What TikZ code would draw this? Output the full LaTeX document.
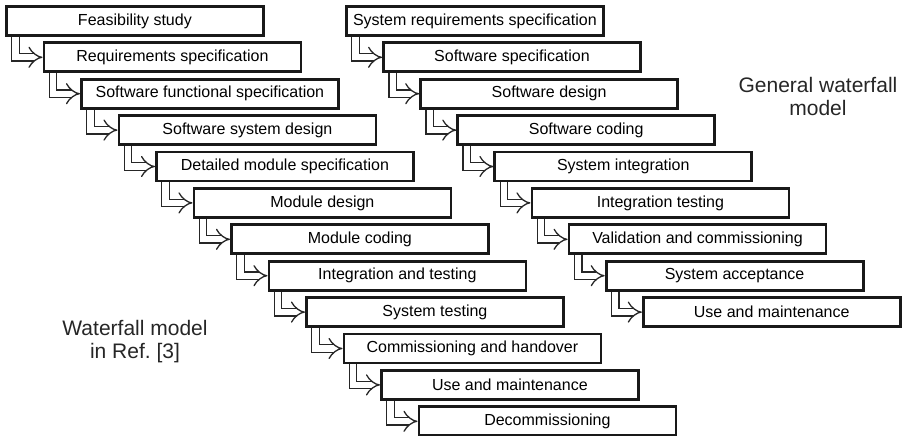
\documentclass[tikz,border=0pt]{standalone}
\usepackage{fontspec}
\setmainfont{Liberation Sans}
\usetikzlibrary{arrows.meta}
\usetikzlibrary{backgrounds}
\tikzstyle{stage} = [draw=black!90, fill=white, line width=1.4pt, rectangle, anchor=north west, minimum width=128.5pt, minimum height=14.5pt, inner sep=0pt, font=\fontsize{8}{9.6}\selectfont]
\tikzstyle{flow} = [draw=black!85, line width=0.65pt, double=white, double distance=3.1pt, -{Implies[scale=1.15]}]
\tikzstyle{caption} = [align=center, text=black!85, font=\fontsize{10.5}{11.5}\selectfont]

\begin{document}
\begin{tikzpicture}[x=0.5pt, y=-0.5pt]
\useasboundingbox (0,0) rectangle (902,435);

% waterfall model in Ref. [3]
\node[stage] (l1)  at (5.0,5.0)    {Feasibility study};
\node[stage] (l2)  at (42.5,41.4)  {Requirements specification};
\node[stage] (l3)  at (80.0,77.8)  {Software functional specification};
\node[stage] (l4)  at (117.5,114.2) {Software system design};
\node[stage] (l5)  at (155.0,150.6) {Detailed module specification};
\node[stage] (l6)  at (192.5,187.0) {Module design};
\node[stage] (l7)  at (230.0,223.4) {Module coding};
\node[stage] (l8)  at (267.5,259.8) {Integration and testing};
\node[stage] (l9)  at (305.0,296.2) {System testing};
\node[stage] (l10) at (342.5,332.6) {Commissioning and handover};
\node[stage] (l11) at (380.0,369.0) {Use and maintenance};
\node[stage] (l12) at (417.5,405.4) {Decommissioning};

% general waterfall model
\node[stage] (r1) at (345.0,5.0)   {System requirements specification};
\node[stage] (r2) at (382.1,41.4)  {Software specification};
\node[stage] (r3) at (419.2,77.8)  {Software design};
\node[stage] (r4) at (456.3,114.2) {Software coding};
\node[stage] (r5) at (493.4,150.6) {System integration};
\node[stage] (r6) at (530.5,187.0) {Integration testing};
\node[stage] (r7) at (567.6,223.4) {Validation and commissioning};
\node[stage] (r8) at (604.7,259.8) {System acceptance};
\node[stage] (r9) at (641.8,296.2) {Use and maintenance};

\node[caption] (cl) at (135,341.5) {Waterfall model\\in Ref.\ [3]};
\node[caption] (cr) at (818,96.5) {General waterfall\\model};

\begin{scope}[on background layer]
\foreach \a/\b in {l1/l2,l2/l3,l3/l4,l4/l5,l5/l6,l6/l7,l7/l8,l8/l9,l9/l10,l10/l11,l11/l12,
                   r1/r2,r2/r3,r3/r4,r4/r5,r5/r6,r6/r7,r7/r8,r8/r9}
  \draw[flow] ([xshift=5.25pt,yshift=1pt]\a.south west) |- (\b.west);
\end{scope}
\end{tikzpicture}
\end{document}
